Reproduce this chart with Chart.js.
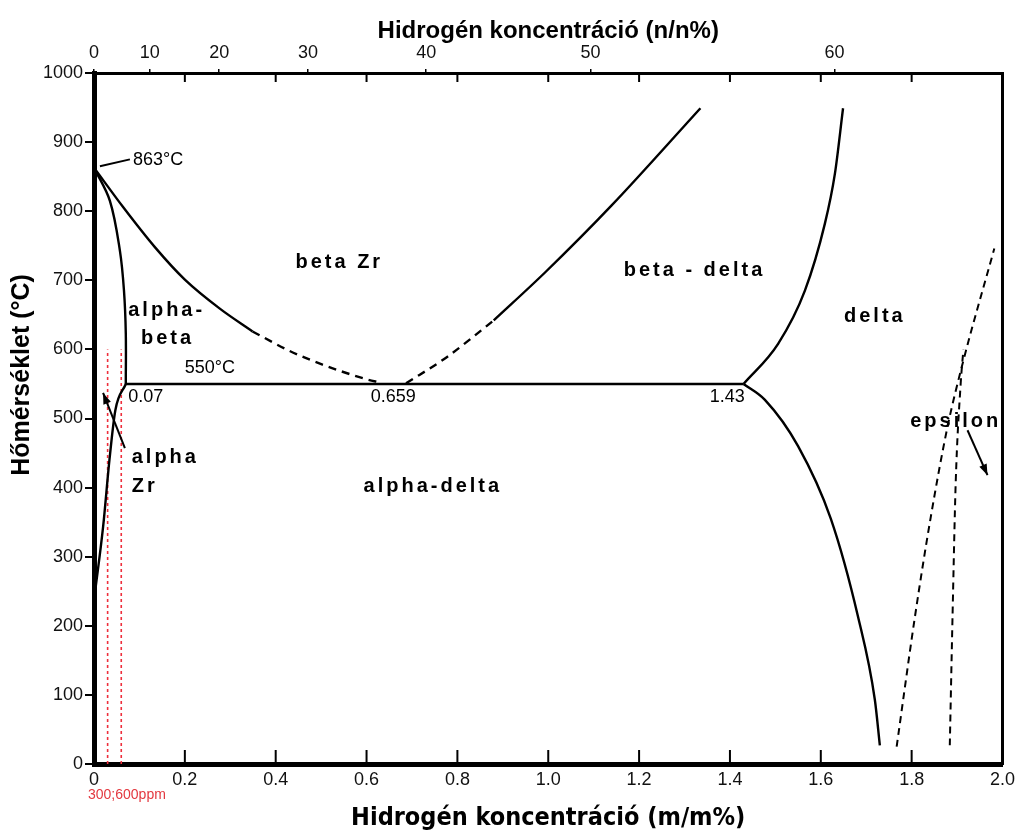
<!DOCTYPE html>
<html>
<head>
<meta charset="utf-8">
<title>Zr-H fázisdiagram</title>
<script src="https://cdn.jsdelivr.net/npm/chart.js@4"></script>
<style>
  html, body { margin: 0; padding: 0; background: #fff; }
</style>
</head>
<body>
<canvas id="ctx" width="1020" height="831"></canvas>
<script>
// Zr-H phase diagram: temperature (°C) vs. hydrogen content (wt%)
const betaTransusWt = [0, 0.064, 0.134, 0.2, 0.277, 0.349];
const betaTransusT = [863, 806, 748, 701, 659, 626];
const betaTransusDashWt = [0.349, 0.43, 0.503, 0.599, 0.63];
const betaTransusDashT = [626, 598, 578, 557, 552];
const betaDeltaDashWt = [0.687, 0.775, 0.88];
const betaDeltaDashT = [551, 588, 642];
const betaDeltaWt = [0.88, 0.994, 1.139, 1.335];
const betaDeltaT = [642, 712, 808, 949];
const alphaBetaWt = [0, 0.035, 0.057, 0.066, 0.07, 0.07];
const alphaBetaT = [863, 815, 743, 685, 623, 550];
const alphaSolvusWt = [0.002, 0.02, 0.034, 0.047, 0.07];
const alphaSolvusT = [247, 343, 440, 512, 550];
const eutectoidWt = [0.07, 1.43];
const eutectoidT = [550, 550];
const deltaHighWt = [1.43, 1.506, 1.565, 1.609, 1.631, 1.649];
const deltaHighT = [550, 608, 685, 782, 854, 949];
const deltaLowWt = [1.43, 1.477, 1.55, 1.622, 1.682, 1.719, 1.73];
const deltaLowT = [550, 527, 460, 355, 213, 93, 27];
const epsLeftWt = [1.767, 1.807, 1.842, 1.879, 1.914, 1.982];
const epsLeftT = [25, 212, 357, 488, 584, 746];
const epsRightWt = [1.884, 1.89, 1.897, 1.908, 1.914];
const epsRightT = [27, 213, 407, 551, 600];
const ppmWt = [0.03, 0.06]; // 300 ppm, 600 ppm
const ppmTopT = 600;
const topTickLabels = [0, 10, 20, 30, 40, 50, 60]; // at% (n/n%)

// atomic masses for the at% -> wt% conversion of the top axis
const M_H = 1.008, M_ZR = 91.224;
const atToWt = a => 100 * a * M_H / (a * M_H + (100 - a) * M_ZR);

const FONT = '"Liberation Sans", Arial, Helvetica, sans-serif';
Chart.defaults.font.family = FONT;
Chart.defaults.color = '#111';

const pts = (xs, ys) => xs.map((x, i) => ({ x: x, y: ys[i] }));
const curve = (xs, ys, dash, width) => ({
  data: pts(xs, ys),
  showLine: true,
  borderColor: '#000',
  borderWidth: width || 2.4,
  borderDash: dash || [],
  pointRadius: 0,
  cubicInterpolationMode: 'monotone'
});

const datasets = [
  curve(betaTransusWt, betaTransusT),
  curve(betaTransusDashWt, betaTransusDashT, [8, 6]),
  curve(betaDeltaDashWt, betaDeltaDashT, [8, 6]),
  curve(betaDeltaWt, betaDeltaT),
  // the alpha/alpha+beta line turns vertical, so it uses plain bezier smoothing
  Object.assign(curve(alphaBetaWt, alphaBetaT), { cubicInterpolationMode: 'default', tension: 0.35 }),
  curve(alphaSolvusWt, alphaSolvusT),
  Object.assign(curve(eutectoidWt, eutectoidT, null, 2.6), { cubicInterpolationMode: 'default', tension: 0 }),
  curve(deltaHighWt, deltaHighT),
  curve(deltaLowWt, deltaLowT),
  curve(epsLeftWt, epsLeftT, [7, 5], 2),
  curve(epsRightWt, epsRightT, [7, 5], 2)
];
ppmWt.forEach(w => datasets.push({
  data: [{ x: w, y: 0 }, { x: w, y: ppmTopT }],
  showLine: true,
  borderColor: '#ee2f3c',
  borderWidth: 1.6,
  borderDash: [3, 3],
  pointRadius: 0
}));

// phase names and point labels, placed in data coordinates
const notes = [
  { t: 'beta Zr', x: 0.54, y: 726, b: true },
  { t: 'alpha-', x: 0.16, y: 657, b: true },
  { t: 'beta', x: 0.162, y: 616, b: true },
  { t: 'beta - delta', x: 1.322, y: 714, b: true },
  { t: 'delta', x: 1.719, y: 648, b: true },
  { t: 'alpha', x: 0.083, y: 443, b: true, left: true },
  { t: 'Zr', x: 0.083, y: 401, b: true, left: true },
  { t: 'alpha-delta', x: 0.746, y: 401, b: true },
  { t: 'epsilon', x: 1.897, y: 495, b: true },
  { t: '863°C', x: 0.086, y: 874, left: true },
  { t: '550°C', x: 0.255, y: 573 },
  { t: '0.07', x: 0.114, y: 531 },
  { t: '0.659', x: 0.659, y: 531 },
  { t: '1.43', x: 1.394, y: 531 }
];
const pointers = [
  { from: [0.013, 865], to: [0.079, 875], head: false },
  { from: [0.068, 457], to: [0.02, 537], head: true },
  { from: [1.923, 483], to: [1.967, 418], head: true }
];

const extras = {
  id: 'extras',
  afterDatasetsDraw(chart) {
    const { ctx, chartArea: a } = chart;
    const xs = chart.scales.x, ys = chart.scales.y;
    const line = (x1, y1, x2, y2) => {
      ctx.beginPath(); ctx.moveTo(x1, y1); ctx.lineTo(x2, y2); ctx.stroke();
    };
    ctx.save();
    ctx.strokeStyle = '#000';
    ctx.fillStyle = '#000';

    // inward tick marks on the top and bottom edges
    ctx.lineWidth = 2;
    xs.ticks.forEach(t => {
      if (t.value <= 0 || t.value >= 2) return;
      const px = xs.getPixelForValue(t.value);
      line(px, a.bottom, px, a.bottom - 14);
      line(px, a.top, px, a.top + 9);
    });

    // leader lines and arrows
    pointers.forEach(p => {
      const x1 = xs.getPixelForValue(p.from[0]), y1 = ys.getPixelForValue(p.from[1]);
      const x2 = xs.getPixelForValue(p.to[0]), y2 = ys.getPixelForValue(p.to[1]);
      line(x1, y1, x2, y2);
      if (p.head) {
        const ang = Math.atan2(y2 - y1, x2 - x1);
        ctx.beginPath();
        ctx.moveTo(x2, y2);
        ctx.lineTo(x2 - 11 * Math.cos(ang) + 4 * Math.sin(ang), y2 - 11 * Math.sin(ang) - 4 * Math.cos(ang));
        ctx.lineTo(x2 - 11 * Math.cos(ang) - 4 * Math.sin(ang), y2 - 11 * Math.sin(ang) + 4 * Math.cos(ang));
        ctx.closePath();
        ctx.fill();
      }
    });

    // labels
    ctx.textBaseline = 'middle';
    notes.forEach(n => {
      ctx.font = n.b ? 'bold 20px ' + FONT : '18px ' + FONT;
      ctx.letterSpacing = n.b ? '3px' : '0px';
      ctx.textAlign = n.left ? 'left' : 'center';
      ctx.fillStyle = '#000';
      ctx.fillText(n.t, xs.getPixelForValue(n.x), ys.getPixelForValue(n.y));
    });
    ctx.letterSpacing = '0px';

    // sample concentrations under the x axis
    ctx.font = '14px ' + FONT;
    ctx.fillStyle = '#e3383f';
    ctx.textAlign = 'left';
    ctx.fillText('300;600ppm', xs.getPixelForValue(0) - 6, a.bottom + 31);

    // y axis title
    ctx.translate(22, 375);
    ctx.rotate(-Math.PI / 2);
    ctx.font = 'bold 25px ' + FONT;
    ctx.fillStyle = '#000';
    ctx.textAlign = 'center';
    ctx.fillText('Hőmérséklet (°C)', 0, 0);
    ctx.restore();
  }
};

new Chart(document.getElementById('ctx'), {
  type: 'scatter',
  data: { datasets: datasets },
  options: {
    responsive: false,
    animation: false,
    events: [],
    layout: { padding: 0 },
    plugins: { legend: { display: false }, tooltip: { enabled: false } },
    scales: {
      x: {
        type: 'linear', position: 'bottom', min: 0, max: 2,
        ticks: {
          stepSize: 0.2, padding: 5, maxRotation: 0, color: '#111',
          font: { size: 18 },
          callback: v => v === 0 ? '0' : v.toFixed(1)
        },
        grid: { display: false, drawTicks: false },
        border: { display: true, color: '#000', width: 5 },
        title: {
          display: true, text: 'Hidrogén koncentráció (m/m%)', color: '#000', padding: 0,
          font: { size: 25, weight: 'bold', family: '"DejaVu Sans Condensed", "Liberation Sans Narrow", ' + FONT, lineHeight: 1 }
        },
        afterFit: s => { s.height = 67; }
      },
      x2: {
        type: 'linear', position: 'top', min: 0, max: 2,
        afterBuildTicks: s => { s.ticks = topTickLabels.map(v => ({ value: atToWt(v) })); },
        ticks: {
          padding: 5, maxRotation: 0, autoSkip: false, color: '#111',
          font: { size: 18 },
          callback: (v, i) => topTickLabels[i]
        },
        grid: { drawOnChartArea: false, tickLength: 4, color: '#000', lineWidth: 1.5 },
        border: { color: '#000', width: 3 },
        title: {
          display: true, text: 'Hidrogén koncentráció (n/n%)', color: '#000',
          padding: { top: 17, bottom: 0 },
          font: { size: 24, weight: 'bold', lineHeight: 1.2 }
        },
        afterFit: s => { s.height = 73; }
      },
      y: {
        min: 0, max: 1000,
        ticks: { stepSize: 100, padding: 2, color: '#111', font: { size: 18 }, callback: v => String(v) },
        grid: { drawOnChartArea: false, tickLength: 9, color: '#000', lineWidth: 2 },
        border: { color: '#000', width: 5 },
        afterFit: s => { s.width = 94; }
      },
      y2: {
        position: 'right', min: 0, max: 1000,
        ticks: { display: false },
        grid: { display: false, drawTicks: false },
        border: { color: '#000', width: 3 },
        afterFit: s => { s.width = 15; }
      }
    }
  },
  plugins: [extras]
});
</script>
</body>
</html>
